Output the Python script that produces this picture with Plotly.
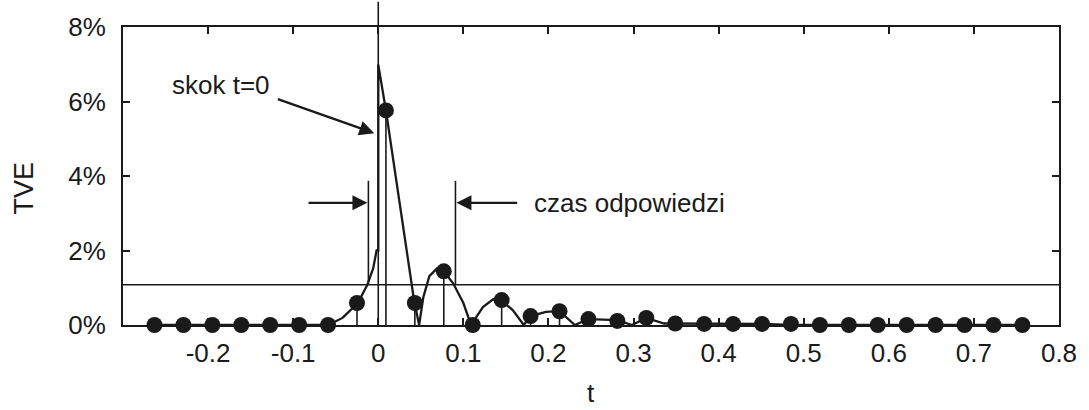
import plotly.graph_objects as go

# --- data ---
sample_t = [-0.263, -0.229, -0.195, -0.161, -0.127, -0.093, -0.059, -0.025, 0.009, 0.043,
            0.077, 0.111, 0.145, 0.179, 0.213, 0.247, 0.281, 0.315, 0.349, 0.383,
            0.417, 0.451, 0.485, 0.519, 0.553, 0.587, 0.621, 0.655, 0.689, 0.723, 0.757]
sample_tve = [0.0, 0.0, 0.0, 0.0, 0.0, 0.0, 0.0, 0.59, 5.76, 0.59,
              1.44, 0.0, 0.67, 0.24, 0.37, 0.16, 0.11, 0.19, 0.04, 0.03,
              0.03, 0.03, 0.03, 0.0, 0.0, 0.0, 0.0, 0.0, 0.0, 0.0, 0.0]

curve_t = [-0.263, -0.059, -0.042, -0.024, -0.013, -0.006, -0.002, 0.0, 0.0, 0.009,
           0.042, 0.048, 0.053, 0.060, 0.069, 0.077, 0.088, 0.100, 0.109, 0.123,
           0.135, 0.144, 0.158, 0.171, 0.179, 0.197, 0.213, 0.231, 0.247, 0.281,
           0.298, 0.315, 0.336, 0.451, 0.485, 0.757]
curve_tve = [0.0, 0.0, 0.19, 0.59, 1.07, 1.52, 2.0, 2.0, 6.99, 5.76,
             0.67, 0.0, 0.75, 1.31, 1.52, 1.44, 1.12, 0.59, 0.0, 0.48,
             0.69, 0.67, 0.40, 0.0, 0.24, 0.35, 0.37, 0.0, 0.16, 0.13,
             0.0, 0.19, 0.04, 0.03, 0.0, 0.0]

x_ticks = [-0.2, -0.1, 0, 0.1, 0.2, 0.3, 0.4, 0.5, 0.6, 0.7, 0.8]
x_tick_labels = ["-0.2", "-0.1", "0", "0.1", "0.2", "0.3", "0.4", "0.5", "0.6", "0.7", "0.8"]
y_ticks = [0, 2, 4, 6, 8]
y_tick_labels = ["0%", "2%", "4%", "6%", "8%"]

threshold = 1.08          # % TVE limit line
step_t = 0.0              # step instant
resp_start = -0.0116      # start of response time
resp_end = 0.0907         # end of response time
resp_top = 3.87

INK = "#1a1a1a"
FONT = "Liberation Sans, Arial, sans-serif"

fig = go.Figure()

# smooth curve
fig.add_trace(go.Scatter(x=curve_t, y=curve_tve, mode="lines",
                         line=dict(color=INK, width=2.3), hoverinfo="skip",
                         cliponaxis=False, showlegend=False))
# sampled points with stems
fig.add_trace(go.Scatter(
    x=sample_t, y=sample_tve, mode="markers",
    marker=dict(color=INK, size=16),
    error_y=dict(type="data", symmetric=False, array=[0] * len(sample_tve),
                 arrayminus=sample_tve, width=0, thickness=1.6, color=INK),
    cliponaxis=False, showlegend=False))

shapes = [
    dict(type="line", xref="paper", yref="y", x0=0, x1=1, y0=threshold, y1=threshold,
         line=dict(color=INK, width=1.6)),
    # step marker line, reaching above the frame to the page top
    dict(type="line", xref="x", yref="paper", x0=step_t, x1=step_t, y0=0, y1=1.085,
         line=dict(color=INK, width=1.6)),
    dict(type="line", xref="x", yref="y", x0=resp_start, x1=resp_start, y0=threshold, y1=resp_top,
         line=dict(color=INK, width=1.6)),
    dict(type="line", xref="x", yref="y", x0=resp_end, x1=resp_end, y0=threshold, y1=resp_top,
         line=dict(color=INK, width=1.6)),
]

arrow = dict(showarrow=True, arrowhead=2, arrowsize=1.3, arrowwidth=2.3, arrowcolor=INK,
             axref="x", ayref="y", xref="x", yref="y", text="")
annotations = [
    dict(arrow, x=-0.0047, y=5.15, ax=-0.1198, ay=6.08),
    dict(arrow, x=resp_start - 0.0012, y=3.28, ax=-0.0837, ay=3.28),
    dict(arrow, x=resp_end + 0.0012, y=3.28, ax=0.165, ay=3.28),
    dict(text="skok t=0", x=-0.185, y=6.44, xref="x", yref="y", showarrow=False,
         xanchor="center", yanchor="middle",
         font=dict(size=26, color=INK, family=FONT)),
    dict(text="czas odpowiedzi", x=0.181, y=3.28, xref="x", yref="y", showarrow=False,
         xanchor="left", yanchor="middle", font=dict(size=26, color=INK, family=FONT)),
    dict(text="TVE", x=-0.1062, y=0.46, xref="paper", yref="paper", showarrow=False,
         xanchor="center", yanchor="middle",
         textangle=-90, font=dict(size=27, color=INK, family=FONT)),
    dict(text="t", x=0.5, y=-0.227, xref="paper", yref="paper", showarrow=False,
         xanchor="center", yanchor="middle",
         font=dict(size=26, color=INK, family=FONT)),
]

fig.update_layout(
    width=1089, height=410,
    margin=dict(l=123, r=20, t=25, b=85),
    paper_bgcolor="white", plot_bgcolor="white",
    font=dict(family=FONT, size=26, color=INK),
    shapes=shapes, annotations=annotations,
    xaxis=dict(range=[-0.3, 0.8], tickvals=x_ticks, ticktext=x_tick_labels,
               ticks="inside", ticklen=7, tickwidth=1.5, tickcolor=INK,
               showline=True, linecolor=INK, linewidth=1.8, mirror="ticks",
               showgrid=False, zeroline=False, ticklabelstandoff=4),
    yaxis=dict(range=[0, 8], tickvals=y_ticks, ticktext=y_tick_labels,
               ticks="inside", ticklen=7, tickwidth=1.5, tickcolor=INK,
               showline=True, linecolor=INK, linewidth=1.8, mirror="ticks",
               showgrid=False, zeroline=False, ticklabelstandoff=10),
)

fig.write_html("out.html")
